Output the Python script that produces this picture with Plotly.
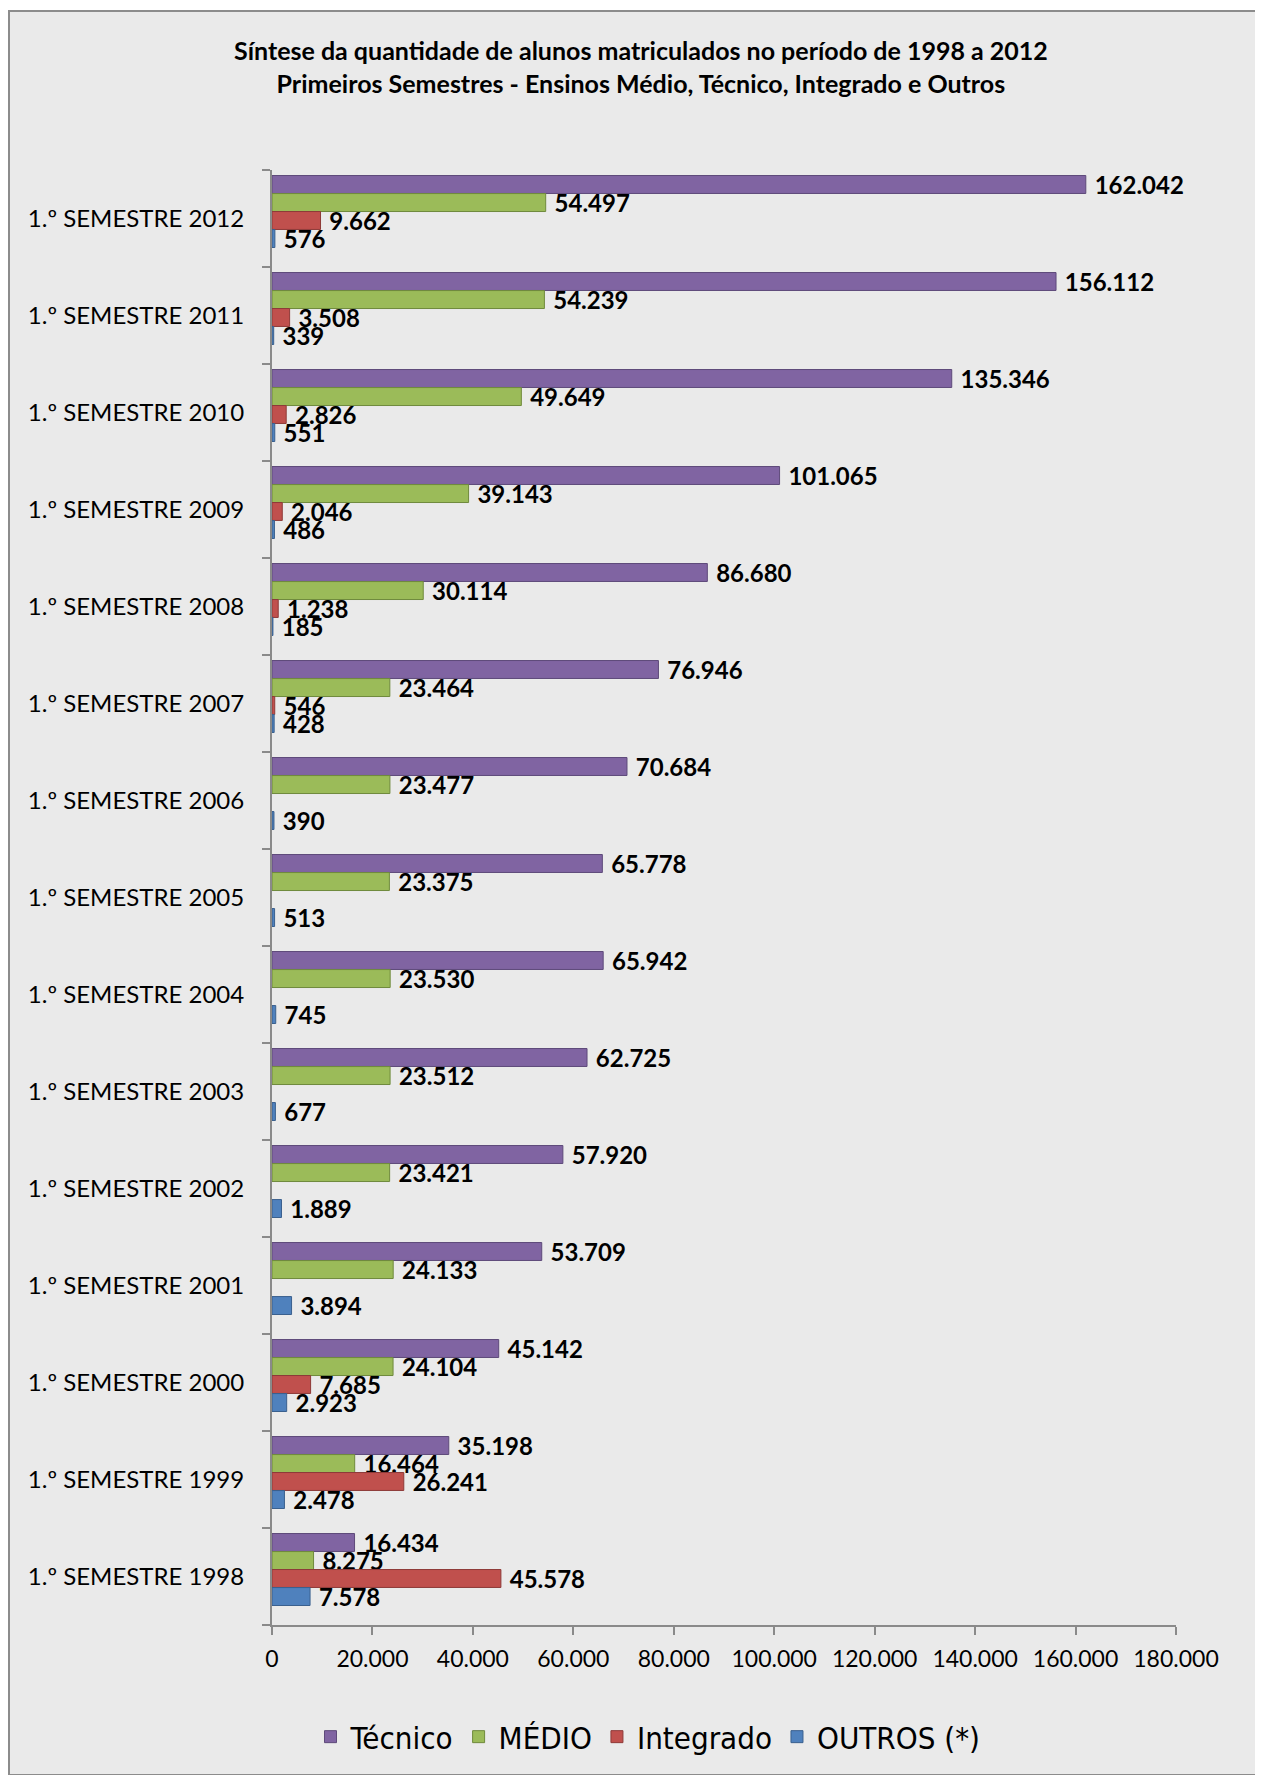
import plotly.graph_objects as go

categories = ["1.º SEMESTRE 1998", "1.º SEMESTRE 1999", "1.º SEMESTRE 2000", "1.º SEMESTRE 2001",
              "1.º SEMESTRE 2002", "1.º SEMESTRE 2003", "1.º SEMESTRE 2004", "1.º SEMESTRE 2005",
              "1.º SEMESTRE 2006", "1.º SEMESTRE 2007", "1.º SEMESTRE 2008", "1.º SEMESTRE 2009",
              "1.º SEMESTRE 2010", "1.º SEMESTRE 2011", "1.º SEMESTRE 2012"]

tecnico = [16434, 35198, 45142, 53709, 57920, 62725, 65942, 65778, 70684, 76946, 86680, 101065, 135346, 156112, 162042]
medio = [8275, 16464, 24104, 24133, 23421, 23512, 23530, 23375, 23477, 23464, 30114, 39143, 49649, 54239, 54497]
integrado = [45578, 26241, 7685, None, None, None, None, None, None, 546, 1238, 2046, 2826, 3508, 9662]
outros = [7578, 2478, 2923, 3894, 1889, 677, 745, 513, 390, 428, 185, 486, 551, 339, 576]

x_ticks = [0, 20000, 40000, 60000, 80000, 100000, 120000, 140000, 160000, 180000]

title_lines = ["Síntese da quantidade de alunos matriculados no período de 1998 a 2012",
               "Primeiros Semestres - Ensinos Médio, Técnico, Integrado e Outros"]

series = [
    ("Técnico", tecnico, "#8064A2", "#5E4A7A", 0.258),
    ("MÉDIO", medio, "#9BBB59", "#6F8A3C", 0.072),
    ("Integrado", integrado, "#C0504D", "#8E3A38", -0.113),
    ("OUTROS (*)", outros, "#4F81BD", "#3A608E", -0.299),
]

fig = go.Figure()
for name, vals, col, edge, off in series:
    fig.add_trace(go.Bar(
        y=categories, x=vals, name=name, orientation="h",
        marker=dict(color=col, line=dict(color=edge, width=1)),
        width=0.185, offset=off,
        text=vals, texttemplate=" %{x:,.0f}", textposition="outside",
        constraintext="none", cliponaxis=False,
        textfont=dict(family="Lato", size=24, color="black", weight="bold"),
    ))

# the page body adds an 8px margin, so figure coordinates are shifted by 8px
S = 8
W, H = 1263 - S, 1775 - S
L, R, T, B = 272 - S, 1176 - S, 170 - S, 1625 - S
pw, ph = R - L, B - T

def px_x(p):
    return (p - S - L) / pw

def px_y(p):
    return (B - (p - S)) / ph

fig.update_layout(
    width=W, height=H,
    barmode="overlay",
    separators=",.",
    margin=dict(l=L, r=W - R, t=T, b=H - B, autoexpand=False),
    paper_bgcolor="white",
    plot_bgcolor="rgba(0,0,0,0)",
    xaxis=dict(
        range=[0, 180000], tickvals=x_ticks, tickformat=",.0f",
        showgrid=False, zeroline=False,
        showline=True, linecolor="#8A8A8A", linewidth=2,
        ticks="outside", ticklen=8, tickcolor="#8A8A8A", tickwidth=2,
        tickfont=dict(family="Lato", size=23, color="black"),
        ticklabelstandoff=4,
    ),
    yaxis=dict(
        categoryorder="array", categoryarray=categories,
        showgrid=False, zeroline=False,
        showline=True, linecolor="#8A8A8A", linewidth=2,
        ticks="outside", ticklen=8, tickcolor="#8A8A8A", tickwidth=2,
        tickson="boundaries",
        tickfont=dict(family="Lato", size=24, color="black"),
        ticklabelstandoff=21,
    ),
    legend=dict(
        orientation="h", traceorder="normal",
        x=px_x(648), xanchor="center", y=px_y(1737), yanchor="middle",
        font=dict(family="DejaVu Sans Condensed, Liberation Sans Narrow", size=31, color="black"),
        bgcolor="rgba(0,0,0,0)", itemwidth=30,
    ),
    annotations=[dict(
        text="<br>".join(title_lines), showarrow=False,
        xref="paper", yref="paper", x=px_x(641), y=px_y(66), xanchor="center", yanchor="middle",
        align="center",
        font=dict(family="Lato", size=25, color="black", weight="bold"),
    )],
    shapes=[dict(
        type="rect", xref="paper", yref="paper", layer="below",
        x0=px_x(9), x1=px_x(1261), y0=px_y(1775), y1=px_y(11),
        fillcolor="#EAEAEA", line=dict(color="#8C8C8C", width=2),
    )],
)

fig.write_html("out.html")
